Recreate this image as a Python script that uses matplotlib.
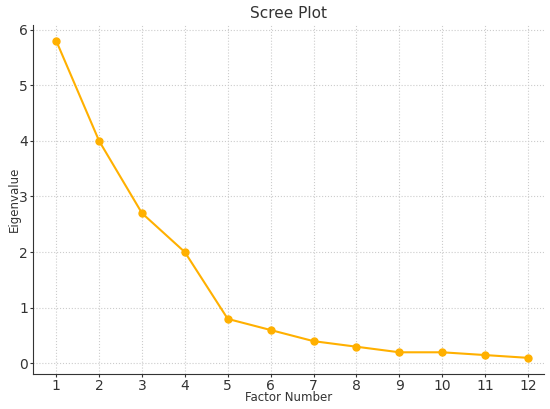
import matplotlib.pyplot as plt

# Scree plot data
factors = [1, 2, 3, 4, 5, 6, 7, 8, 9, 10, 11, 12]
eigenvalues = [5.8, 4.0, 2.7, 2.0, 0.8, 0.6, 0.4, 0.3, 0.2, 0.2, 0.15, 0.1]

fig = plt.figure(figsize=(5.5, 4.09), dpi=100)
ax = fig.add_axes([0.06, 0.0856, 0.929, 0.853])

ax.plot(factors, eigenvalues, marker="o", markersize=5, color="#FFB000", linewidth=1.5)

ax.set_title("Scree Plot", fontsize=11, color="#333333", pad=5)
ax.set_xlabel("Factor Number", fontsize=8.5, color="#333333", labelpad=-1)
ax.set_ylabel("Eigenvalue", fontsize=8.5, color="#333333", labelpad=-1)
ax.set_xticks(factors)
ax.set_xlim(0.46, 12.37)
ax.set_ylim(-0.19, 6.08)

ax.grid(True, linestyle=":", color="#cccccc", linewidth=0.8)
for side in ["top", "right"]:
    ax.spines[side].set_visible(False)
for side in ["left", "bottom"]:
    ax.spines[side].set_color("#333333")
ax.tick_params(colors="#333333", labelsize=10, length=2.5, pad=1)

fig.savefig("out.png")
plt.close(fig)
